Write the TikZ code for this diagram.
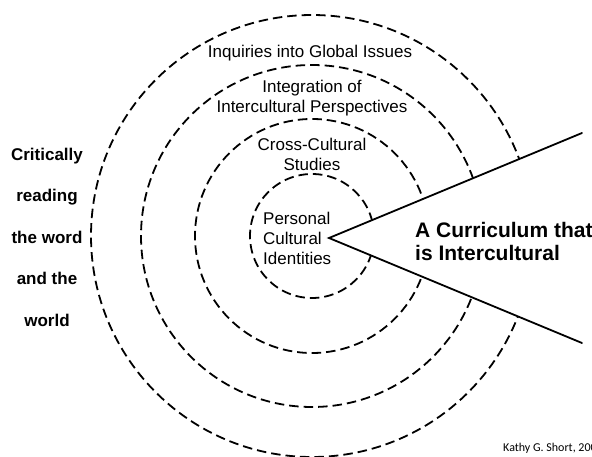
\documentclass[tikz,border=0pt]{standalone}
\usepackage{fontspec}
\setmainfont{Liberation Sans}
\newfontfamily\credfont{Carlito}
\begin{document}
\begin{tikzpicture}[x=1pt,y=1pt,
  ring/.style={draw=black,line width=1.8pt,dash pattern=on 9.5pt off 5pt},
  wedgeline/.style={draw=black,line width=1.8pt,line cap=round},
  lbl/.style={inner sep=0pt,align=center,font=\fontsize{17}{20}\selectfont},
  boldlbl/.style={inner sep=0pt,font=\bfseries\fontsize{17}{41.5}\selectfont}]
\useasboundingbox (0,0) rectangle (592,456);
\fill[white] (0,0) rectangle (592,456);
\coordinate (C) at (312,220);
\draw[ring] (C) circle[radius=62];
\draw[ring] (C) circle[radius=117];
\draw[ring] (C) circle[radius=171];
\draw[ring] (C) circle[radius=221];
\coordinate (A) at (329,218);
\coordinate (U) at (582,323);
\coordinate (L) at (582,113);
\fill[white] (A) -- (U) -- (L) -- cycle;
\draw[wedgeline] (U) -- (A) -- (L);
\node[lbl] (glob) at (310,403) {Inquiries into Global Issues};
\node[lbl] (integ) at (312,358) {Integration of\\Intercultural Perspectives};
\node[lbl] (cross) at (312,302) {Cross-Cultural\\Studies};
\node[lbl,align=left,anchor=west] (pers) at (263,218) {Personal\\Cultural\\Identities};
\node[inner sep=0pt,align=left,anchor=west,font=\bfseries\fontsize{21}{23}\selectfont] (curr) at (415,214.5) {A Curriculum that\\is Intercultural};
\node[boldlbl,align=center] (crit) at (47,219) {Critically\\reading\\the word\\and the\\world};
\node[inner sep=0pt,anchor=base west,font=\credfont\fontsize{12}{14}\selectfont] (cred) at (503,5) {Kathy G. Short, 200};
\end{tikzpicture}
\end{document}
